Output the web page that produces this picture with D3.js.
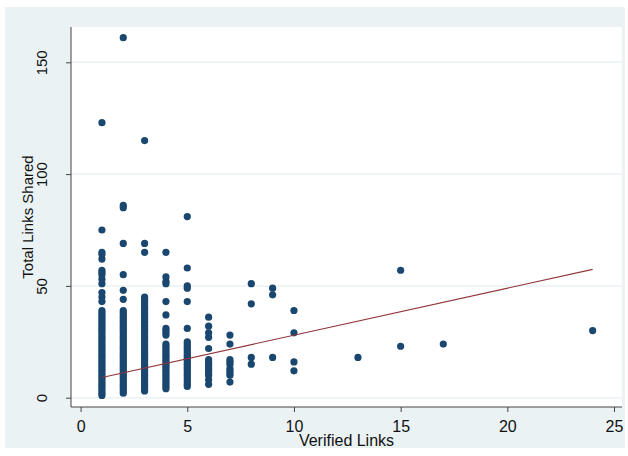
<!DOCTYPE html>
<html>
<head>
<meta charset="utf-8">
<script src="https://cdn.jsdelivr.net/npm/d3@7"></script>
<style>
  body { margin: 0; background: #ffffff; }
  svg { display: block; font-family: "Liberation Sans", Arial, sans-serif; }
</style>
</head>
<body>
<div class="chart"></div>
<script>
// data
const verifiedLinks = [1, 2, 3, 4, 5, 6, 7, 8, 9, 10, 13, 15, 17, 24];
const totalLinks = [
    [1,2,3,4,5,6,7,8,9,10,11,12,13,14,15,16,17,18,19,20,21,22,23,24,25,26,27,28,29,30,31,32,33,34,35,36,37,38,39,43,45,47,51,53,55,56,57,62,64,65,75,123],
    [2,3,4,5,6,7,8,9,10,11,12,13,14,15,16,17,18,19,20,21,22,23,24,25,26,27,28,29,30,31,32,33,34,35,36,37,38,39,44,48,55,69,85,86,161],
    [3,4,5,6,7,8,9,10,11,12,13,14,15,16,17,18,19,20,21,22,23,24,25,26,27,28,29,30,31,32,33,34,35,36,37,38,39,40,41,42,43,44,45,65,69,115],
    [4,5,6,7,8,9,10,11,12,13,14,15,16,17,18,19,20,21,22,23,24,28,29,30,31,37,43,51,52,54,65],
    [5,6,7,8,9,10,11,12,13,14,15,16,17,18,19,20,21,22,23,24,25,31,43,49,50,58,81],
    [6,8,10,11,12,13,14,15,16,17,22,27,29,32,36],
    [7,10,11,12,13,15,16,17,24,28],
    [15,18,42,51],
    [18,46,49],
    [12,16,29,39],
    [18],
    [23,57],
    [24],
    [30]
];
const fitX = [1, 24];
const fitY = [9.0, 57.4];

const xTicks = [0, 5, 10, 15, 20, 25];
const yTicks = [0, 50, 100, 150];
const xTitle = "Verified Links";
const yTitle = "Total Links Shared";

// Mesures
const size = { width: 628, height: 456 };
const plot = { left: 71, right: 622, top: 27, bottom: 407 };

const points = [];
verifiedLinks.forEach((v, i) => {
    totalLinks[i].forEach((t) => points.push({ x: v, y: t }));
});
const fitLine = fitX.map((d, i) => ({ x: d, y: fitY[i] }));

const svg = d3.select(".chart")
              .append("svg")
              .attr("width", size.width)
              .attr("height", size.height);

// graph region + plot region
svg.append("rect")
    .attr("x", 5).attr("y", 7)
    .attr("width", 620).attr("height", 441)
    .attr("fill", "#eaf2f3");
svg.append("rect")
    .attr("x", plot.left).attr("y", plot.top)
    .attr("width", plot.right - plot.left)
    .attr("height", plot.bottom - plot.top)
    .attr("fill", "#ffffff");

const x = d3.scaleLinear().domain([0, 25]).range([80.6, 614]);
const y = d3.scaleLinear().domain([0, 150]).range([397.7, 62.3]);

// grid
svg.append("g")
    .selectAll("line")
    .data(yTicks)
    .enter()
    .append("line")
    .attr("x1", plot.left).attr("x2", plot.right)
    .attr("y1", (d) => y(d)).attr("y2", (d) => y(d))
    .attr("stroke", "#eaf2f3")
    .attr("stroke-width", 1.5);

// axes
const xAxis = svg.append("g")
    .attr("transform", `translate(0, ${plot.bottom})`)
    .call(d3.axisBottom(x).tickValues(xTicks).tickSize(5).tickFormat(d3.format("d")));
xAxis.select(".domain").remove();
xAxis.selectAll("line").attr("stroke", "#444");
xAxis.selectAll("text")
    .attr("y", 25)
    .attr("dy", 0)
    .attr("fill", "#111")
    .attr("font-size", 16)
    .attr("font-family", "Liberation Sans, Arial, sans-serif");

const yAxis = svg.append("g")
    .attr("transform", `translate(${plot.left}, 0)`)
    .call(d3.axisLeft(y).tickValues(yTicks).tickSize(5).tickFormat(d3.format("d")));
yAxis.select(".domain").remove();
yAxis.selectAll("line").attr("stroke", "#444");
yAxis.selectAll("text")
    .attr("transform", "rotate(-90)")
    .attr("x", 0)
    .attr("y", -24)
    .attr("dy", 0)
    .attr("text-anchor", "middle")
    .attr("fill", "#111")
    .attr("font-size", 15)
    .attr("font-family", "Liberation Sans, Arial, sans-serif");

svg.append("line")
    .attr("x1", plot.left).attr("x2", plot.right)
    .attr("y1", plot.bottom).attr("y2", plot.bottom)
    .attr("stroke", "#444");
svg.append("line")
    .attr("x1", plot.left).attr("x2", plot.left)
    .attr("y1", plot.top).attr("y2", plot.bottom)
    .attr("stroke", "#444");

// titles
svg.append("text")
    .attr("x", (plot.left + plot.right) / 2)
    .attr("y", 446)
    .attr("text-anchor", "middle")
    .attr("font-size", 16)
    .attr("fill", "#111")
    .text(xTitle);
svg.append("text")
    .attr("transform", `translate(33, ${(plot.top + plot.bottom) / 2}) rotate(-90)`)
    .attr("text-anchor", "middle")
    .attr("font-size", 15)
    .attr("fill", "#111")
    .text(yTitle);

// scatter
svg.append("g")
    .selectAll("circle")
    .data(points)
    .enter()
    .append("circle")
    .attr("cx", (d) => x(d.x))
    .attr("cy", (d) => y(d.y))
    .attr("r", 3.6)
    .attr("fill", "#1a476f");

// fitted line
const lineGen = d3.line().x((d) => x(d.x)).y((d) => y(d.y));
svg.append("path")
    .datum(fitLine)
    .attr("d", lineGen)
    .attr("fill", "none")
    .attr("stroke", "#90353b")
    .attr("stroke-width", 1.1);
</script>
</body>
</html>
